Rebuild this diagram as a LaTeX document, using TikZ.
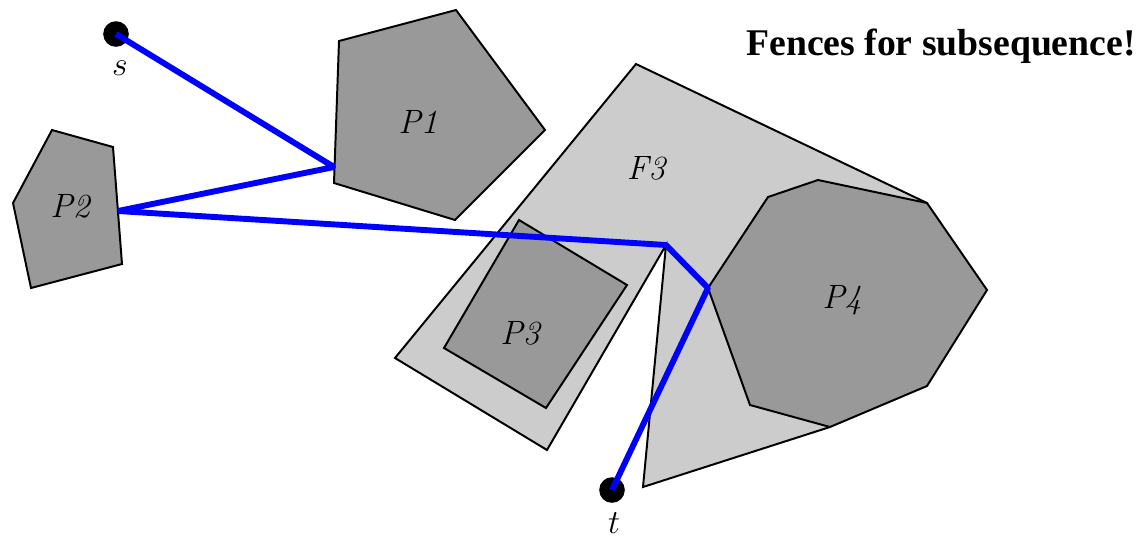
\documentclass[tikz,border=0pt]{standalone}
\usepackage{fontspec}
\newfontfamily\titlefont{Liberation Serif}
\usetikzlibrary{calc}
\tikzset{
  obs/.style   ={draw,line width=0.7pt,line join=miter,fill=black!40},
  fence/.style ={draw,line width=0.7pt,line join=miter,fill=black!20},
  pth/.style   ={blue,line width=2.1pt,line join=bevel},
  pt/.style    ={circle,fill=black,inner sep=0pt,minimum size=3.2mm},
  lbl/.style   ={font=\fontsize{12}{14}\selectfont\itshape},
}
\begin{document}
\begin{tikzpicture}[x=0.0125cm,y=-0.0125cm]
  \useasboundingbox (0,0) rectangle (1141,538);
  % fence around P3 and P4
  \path[fence] (636,64) -- (927,203) -- (830,427) -- (643,487) -- (666,245)
    -- (547,450) -- (395,358) -- cycle;
  % obstacles
  \path[obs] (519,220) -- (627,285) -- (546,408) -- (444,348) -- cycle;
  \path[obs] (768,197) -- (818,180) -- (927,203) -- (987,290) -- (927,386)
    -- (830,427) -- (750,405) -- (708,288) -- cycle;
  \path[obs] (339,41) -- (456,10) -- (545,130) -- (455,220) -- (334,183) -- cycle;
  \path[obs] (52,130) -- (113,147) -- (122,264) -- (31,288) -- (13,203) -- cycle;
  \node[lbl] (f3) at (646,168) {F3};
  \node[lbl] (p1) at (418,122) {P1};
  \node[lbl] (p2) at (70,206) {P2};
  \node[lbl] (p3) at (520,333) {P3};
  \node[lbl] (p4) at (842,300) {P4};
  % end points
  \node[pt] (s) at (116,34) {};
  \node[pt] (t) at (612,490) {};
  \node[font=\fontsize{12}{14}\selectfont] (sl) at (120,68) {$s$};
  \node[font=\fontsize{12}{14}\selectfont] (tl) at (614,523) {$t$};
  % shortest path
  \coordinate (a) at (334,167);
  \coordinate (b) at (118,211);
  \coordinate (c) at (666,245);
  \coordinate (d) at (708,288);
  \draw[pth] (s.center) -- (a) -- (b) -- (c) -- (d) -- (t.center);
  \node[font=\titlefont\fontsize{13.4}{16}\selectfont\bfseries] (ttl) at (941,46)
    {Fences for subsequence!};
\end{tikzpicture}
\end{document}
